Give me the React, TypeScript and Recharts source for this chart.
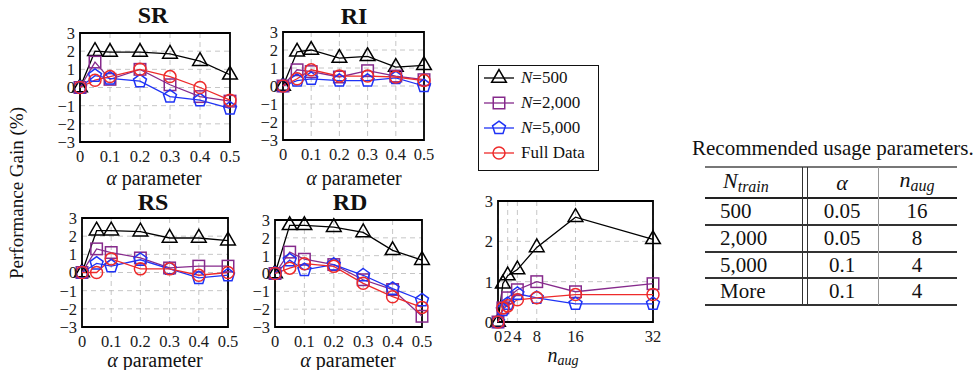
import React from 'react';
import { LineChart, Line, XAxis, YAxis, CartesianGrid, ReferenceArea } from 'recharts';

// ---------- data ----------
const alphaValues = [0, 0.05, 0.1, 0.2, 0.3, 0.4, 0.5];
const alphaTicks = [0, 0.1, 0.2, 0.3, 0.4, 0.5];
const gainTicks = [-3, -2, -1, 0, 1, 2, 3];

const srN500 = [0, 2.0, 1.95, 1.95, 1.85, 1.45, 0.7];
const srN2000 = [0, 1.4, 0.45, 1.0, 0.15, -0.5, -0.75];
const srN5000 = [0, 0.65, 0.5, 0.35, -0.5, -0.7, -1.15];
const srFull = [0, 0.4, 0.6, 1.0, 0.6, 0.0, -0.7];

const riN500 = [0, 1.9, 2.0, 1.55, 1.65, 1.05, 1.15];
const riN2000 = [0, 0.9, 0.8, 0.5, 0.85, 0.55, 0.35];
const riN5000 = [0, 0.3, 0.4, 0.3, 0.3, 0.45, 0.0];
const riFull = [0, 0.4, 0.9, 0.55, 0.55, 0.5, 0.3];

const rsN500 = [0, 2.3, 2.3, 2.25, 1.9, 1.9, 1.75];
const rsN2000 = [0, 1.3, 1.1, 0.8, 0.25, 0.35, 0.35];
const rsN5000 = [0, 0.5, 0.35, 0.7, 0.2, -0.3, -0.15];
const rsFull = [0, 0.0, 0.75, 0.2, 0.2, -0.15, 0.0];

const rdN500 = [0, 2.7, 2.7, 2.6, 2.3, 1.3, 0.75];
const rdN2000 = [0, 1.2, 0.8, 0.5, -0.35, -0.9, -2.4];
const rdN5000 = [0, 0.75, 0.2, 0.5, -0.1, -0.85, -1.5];
const rdFull = [0, 0.3, 0.55, 0.4, -0.55, -1.3, -1.9];

const nAugValues = [0, 1, 2, 4, 8, 16, 32];
const nAugTicks = [0, 2, 4, 8, 16, 32];
const nAugGainTicks = [0, 1, 2, 3];
const augN500 = [0, 0.95, 1.15, 1.3, 1.85, 2.6, 2.05];
const augN2000 = [0, 0.35, 0.6, 0.8, 1.0, 0.75, 0.95];
const augN5000 = [0, 0.3, 0.45, 0.7, 0.6, 0.45, 0.45];
const augFull = [0, 0.35, 0.4, 0.55, 0.6, 0.68, 0.68];

const tableTitle = 'Recommended usage parameters.';
const tableRows = [
  ['500', '0.05', '16'],
  ['2,000', '0.05', '8'],
  ['5,000', '0.1', '4'],
  ['More', '0.1', '4'],
];

// ---------- styles ----------
const SERIF = '"Liberation Serif"';
const series = [
  { key: 'n500', label: '=500', italicN: true, color: '#000000', shape: 'triangle' },
  { key: 'n2000', label: '=2,000', italicN: true, color: '#862a8c', shape: 'square' },
  { key: 'n5000', label: '=5,000', italicN: true, color: '#1f33f5', shape: 'pentagon' },
  { key: 'full', label: 'Full Data', italicN: false, color: '#ee2b2b', shape: 'circle' },
];

function build(xs: number[], a: number[], b: number[], c: number[], d: number[]) {
  return xs.map((x, i) => ({ x, n500: a[i], n2000: b[i], n5000: c[i], full: d[i] }));
}

const srData = build(alphaValues, srN500, srN2000, srN5000, srFull);
const riData = build(alphaValues, riN500, riN2000, riN5000, riFull);
const rsData = build(alphaValues, rsN500, rsN2000, rsN5000, rsFull);
const rdData = build(alphaValues, rdN500, rdN2000, rdN5000, rdFull);
const augData = build(nAugValues, augN500, augN2000, augN5000, augFull);

function Marker({ shape, cx, cy, color }: any) {
  if (cx == null || cy == null || isNaN(cx) || isNaN(cy)) return null;
  const sw = 1.5;
  if (shape === 'triangle') {
    const r = 8.5;
    const pts = [0, 1, 2]
      .map((i) => {
        const a = ((-90 + i * 120) * Math.PI) / 180;
        return `${cx + r * Math.cos(a)},${cy + r * Math.sin(a)}`;
      })
      .join(' ');
    return <polygon points={pts} fill="none" stroke={color} strokeWidth={sw} />;
  }
  if (shape === 'square') {
    const s = 11.5;
    return <rect x={cx - s / 2} y={cy - s / 2} width={s} height={s} fill="none" stroke={color} strokeWidth={sw} />;
  }
  if (shape === 'pentagon') {
    const r = 6.8;
    const pts = [0, 1, 2, 3, 4]
      .map((i) => {
        const a = ((-90 + i * 72) * Math.PI) / 180;
        return `${cx + r * Math.cos(a)},${cy + r * Math.sin(a)}`;
      })
      .join(' ');
    return <polygon points={pts} fill="none" stroke={color} strokeWidth={sw} />;
  }
  return <circle cx={cx} cy={cy} r={6} fill="none" stroke={color} strokeWidth={sw} />;
}

const fmtMinus = (v: number) => String(v).replace('-', '\u2212');

function Panel({ left, top, width, height, data, xDomain, xTicks, yDomain, yTicks }: any) {
  const padL = 46;
  const padR = 16;
  const padT = 12;
  const padB = 28;
  const yW = 40;
  const tickStyle = { fill: '#1a1a1a', fontSize: 16.5, fontFamily: SERIF };
  return (
    <div style={{ position: 'absolute', left: left - padL, top: top - padT }}>
      <LineChart
        width={width + padL + padR}
        height={height + padT + padB}
        data={data}
        margin={{ top: padT, right: padR, left: padL - yW, bottom: 0 }}
      >
        <CartesianGrid stroke="#b8b8b8" strokeDasharray="5 4" strokeWidth={0.8} />
        <XAxis
          dataKey="x"
          type="number"
          domain={xDomain}
          ticks={xTicks}
          interval={0}
          tickLine={false}
          axisLine={false}
          height={padB}
          tick={tickStyle}
          tickSize={4}
          tickMargin={4}
        />
        <YAxis
          type="number"
          domain={yDomain}
          ticks={yTicks}
          interval={0}
          width={yW}
          tickLine={false}
          axisLine={false}
          tick={tickStyle}
          tickFormatter={fmtMinus}
          tickSize={3}
          tickMargin={2}
        />
        <ReferenceArea
          x1={xDomain[0]}
          x2={xDomain[1]}
          y1={yDomain[0]}
          y2={yDomain[1]}
          fill="none"
          fillOpacity={0}
          stroke="#000"
          strokeWidth={1.8}
        />
        {series.map((s) => (
          <Line
            key={s.key}
            dataKey={s.key}
            stroke={s.color}
            strokeWidth={1.3}
            isAnimationActive={false}
            activeDot={false}
            dot={(p: any) => <Marker key={`${s.key}-${p.index}`} shape={s.shape} cx={p.cx} cy={p.cy} color={s.color} />}
          />
        ))}
      </LineChart>
    </div>
  );
}

function CenterText({ x, y, children, style }: any) {
  return (
    <div
      style={{
        position: 'absolute',
        left: x,
        top: y,
        transform: 'translate(-50%, -50%)',
        whiteSpace: 'nowrap',
        fontFamily: SERIF,
        lineHeight: 1,
        color: '#111',
        ...style,
      }}
    >
      {children}
    </div>
  );
}

function AlphaLabel() {
  return (
    <>
      <i>α</i> parameter
    </>
  );
}

function Legend() {
  return (
    <div
      style={{
        position: 'absolute',
        left: 478,
        top: 65,
        width: 119,
        height: 104,
        border: '1px solid #111',
        background: '#fff',
        fontFamily: SERIF,
      }}
    >
      {series.map((s, i) => (
        <div key={s.key} style={{ position: 'absolute', left: 3, top: 1 + i * 25, height: 22, display: 'flex', alignItems: 'center' }}>
          <svg width={34} height={22} style={{ display: 'block' }}>
            <line x1={2} y1={11} x2={32} y2={11} stroke={s.color} strokeWidth={1.3} />
            <Marker shape={s.shape} cx={17} cy={11} color={s.color} />
          </svg>
          <span style={{ fontSize: 17, marginLeft: 5, color: '#111', whiteSpace: 'nowrap' }}>
            {s.italicN ? (
              <>
                <i>N</i>
                {s.label}
              </>
            ) : (
              s.label
            )}
          </span>
        </div>
      ))}
    </div>
  );
}

function Table() {
  const x0 = 705;
  const x1 = 957;
  const rowY = [211, 238, 265, 291];
  const rules = [225, 252, 278, 305];
  const hline = (y: number, w: number, c: string) => (
    <div key={`h${y}`} style={{ position: 'absolute', left: x0, top: y - w / 2, width: x1 - x0, height: w, background: c }} />
  );
  const vline = (x: number, c: string) => (
    <div key={`v${x}`} style={{ position: 'absolute', left: x, top: 167, width: 1.2, height: 305 - 167, background: c }} />
  );
  const cellFont = { fontSize: 21 };
  return (
    <>
      <div style={{ position: 'absolute', left: 692, top: 138, fontFamily: SERIF, fontSize: 21, whiteSpace: 'nowrap', color: '#111', lineHeight: 1 }}>
        {tableTitle}
      </div>
      {hline(167, 1.2, '#777')}
      {hline(198, 2.4, '#222')}
      {rules.map((y) => hline(y, 1.6, '#333'))}
      {vline(802, '#333')}
      {vline(806.5, '#333')}
      {vline(878, '#999')}
      <div style={{ position: 'absolute', left: 723, top: 182, transform: 'translateY(-50%)', fontFamily: SERIF, fontSize: 22, lineHeight: 1, color: '#111', whiteSpace: 'nowrap' }}>
        <i>N</i>
        <sub style={{ fontSize: 16, fontStyle: 'italic', verticalAlign: '-4px' }}>train</sub>
      </div>
      <CenterText x={842} y={183} style={{ fontSize: 22 }}>
        <i>α</i>
      </CenterText>
      <CenterText x={917} y={181} style={{ fontSize: 22 }}>
        <i>n</i>
        <sub style={{ fontSize: 16, fontStyle: 'italic', verticalAlign: '-4px' }}>aug</sub>
      </CenterText>
      {tableRows.map((r, i) => (
        <React.Fragment key={i}>
          <div style={{ position: 'absolute', left: 720, top: rowY[i], transform: 'translateY(-50%)', fontFamily: SERIF, lineHeight: 1, color: '#111', ...cellFont }}>
            {r[0]}
          </div>
          <CenterText x={842} y={rowY[i]} style={cellFont}>
            {r[1]}
          </CenterText>
          <CenterText x={917} y={rowY[i]} style={cellFont}>
            {r[2]}
          </CenterText>
        </React.Fragment>
      ))}
    </>
  );
}

export default function App() {
  return (
    <div style={{ position: 'absolute', left: 0, top: 0, width: 977, height: 370, background: '#fff', overflow: 'hidden', fontFamily: SERIF }}>
      <CenterText x={16} y={193} style={{ fontSize: 19, transform: 'translate(-50%, -50%) rotate(-90deg)' }}>
        Performance Gain (%)
      </CenterText>

      <Panel left={80} top={33} width={150} height={109} data={srData} xDomain={[0, 0.5]} xTicks={alphaTicks} yDomain={[-3, 3]} yTicks={gainTicks} />
      <Panel left={283} top={32} width={141} height={108} data={riData} xDomain={[0, 0.5]} xTicks={alphaTicks} yDomain={[-3, 3]} yTicks={gainTicks} />
      <Panel left={82} top={218} width={146} height={109} data={rsData} xDomain={[0, 0.5]} xTicks={alphaTicks} yDomain={[-3, 3]} yTicks={gainTicks} />
      <Panel left={275} top={220} width={147} height={107} data={rdData} xDomain={[0, 0.5]} xTicks={alphaTicks} yDomain={[-3, 3]} yTicks={gainTicks} />
      <Panel left={498} top={201} width={155} height={121} data={augData} xDomain={[0, 32]} xTicks={nAugTicks} yDomain={[0, 3]} yTicks={nAugGainTicks} />

      <CenterText x={153} y={15} style={{ fontSize: 24, fontWeight: 'bold' }}>SR</CenterText>
      <CenterText x={354} y={16} style={{ fontSize: 24, fontWeight: 'bold' }}>RI</CenterText>
      <CenterText x={153} y={202} style={{ fontSize: 24, fontWeight: 'bold' }}>RS</CenterText>
      <CenterText x={350} y={202} style={{ fontSize: 24, fontWeight: 'bold' }}>RD</CenterText>

      <CenterText x={154} y={178} style={{ fontSize: 20 }}><AlphaLabel /></CenterText>
      <CenterText x={354} y={178} style={{ fontSize: 20 }}><AlphaLabel /></CenterText>
      <CenterText x={155} y={360} style={{ fontSize: 20 }}><AlphaLabel /></CenterText>
      <CenterText x={348} y={360} style={{ fontSize: 20 }}><AlphaLabel /></CenterText>
      <CenterText x={563} y={356} style={{ fontSize: 20 }}>
        <i>n</i>
        <sub style={{ fontSize: 14, fontStyle: 'italic', verticalAlign: '-3px' }}>aug</sub>
      </CenterText>

      <Legend />
      <Table />
    </div>
  );
}
